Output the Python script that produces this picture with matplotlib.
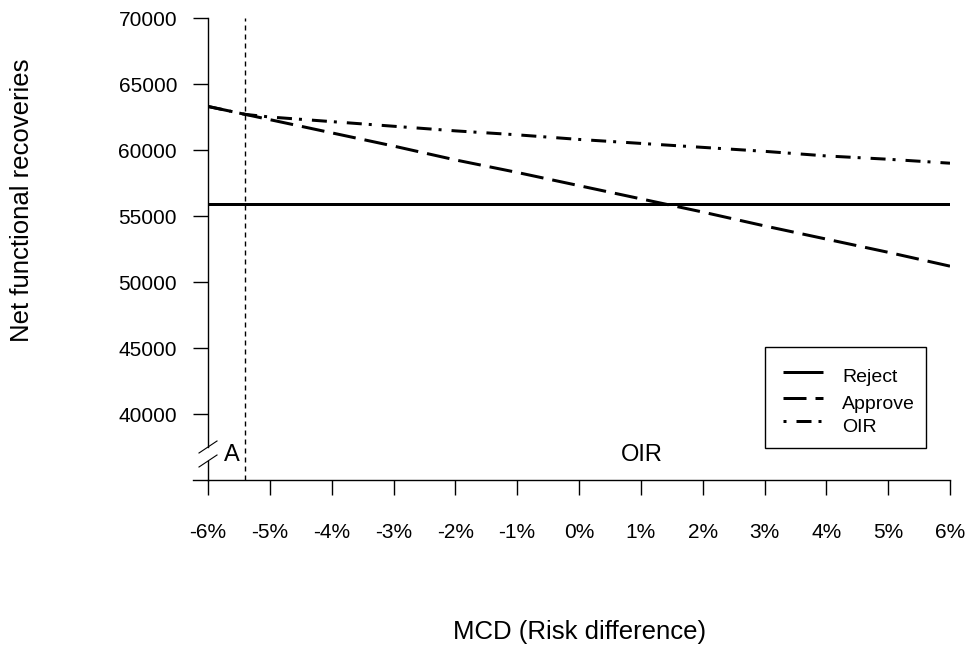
import matplotlib
matplotlib.use("Agg")
import matplotlib.pyplot as plt
from matplotlib.lines import Line2D
from matplotlib.patches import Rectangle

plt.rcParams['font.family'] = ['Liberation Sans', 'DejaVu Sans']
plt.rcParams['lines.scale_dashes'] = False

# ---- data -------------------------------------------------------------
mcd = [-6, -5.4, -5, -4, -3, -2, -1, 0, 1, 2, 3, 4, 5, 6]
reject = [55900] * len(mcd)
approve = [63300, 62700, 62300, 61300, 60300, 59250, 58300, 57300,
           56300, 55300, 54250, 53250, 52250, 51200]
oir = [63300, 62700, 62500, 62150, 61800, 61450, 61150, 60800,
       60500, 60200, 59900, 59550, 59300, 59000]
threshold = -5.4
x_ticks = [-6, -5, -4, -3, -2, -1, 0, 1, 2, 3, 4, 5, 6]
x_labels = [f"{v}%" for v in x_ticks]
y_ticks = [40000, 45000, 50000, 55000, 60000, 65000, 70000]
series_names = ["Reject", "Approve", "OIR"]

# ---- layout helpers ---------------------------------------------------
W, H = 967, 648
PX = 0.72  # points per pixel at 100 dpi
AX_L, AX_R, AX_T, AX_B = 208, 950, 18, 480

fig = plt.figure(figsize=(W / 100, H / 100), dpi=100)
ax = fig.add_axes([AX_L / W, 1 - AX_B / H, (AX_R - AX_L) / W, (AX_B - AX_T) / H])


def ax_xy(px, py):
    return ((px - AX_L) / (AX_R - AX_L), (AX_B - py) / (AX_B - AX_T))


styles = {
    "Reject": dict(color="black", lw=3 * PX, linestyle="-", solid_capstyle="butt"),
    "Approve": dict(color="black", lw=3 * PX, linestyle=(0, (23 * PX, 9 * PX)),
                    dash_capstyle="butt"),
    "OIR": dict(color="black", lw=3 * PX,
                linestyle=(0, (15 * PX, 7 * PX, 3 * PX, 10 * PX)),
                dash_capstyle="butt"),
}

ax.plot(mcd, reject, **styles["Reject"])
ax.plot(mcd, approve, **styles["Approve"])
ax.plot(mcd, oir, **styles["OIR"])
ax.axvline(threshold, color="black", lw=1.0, linestyle=(0, (5 * PX, 4 * PX)))

ax.set_xlim(-6, 6)
ax.set_ylim(35000, 70000)

# ---- axes -------------------------------------------------------------
for s in ("top", "right", "left"):
    ax.spines[s].set_visible(False)
ax.spines["bottom"].set_linewidth(1.0)

ax.set_xticks(x_ticks)
ax.set_xticklabels(x_labels)
ax.set_yticks(y_ticks)
ax.set_yticklabels([str(v) for v in y_ticks])
ax.tick_params(axis="x", direction="out", length=15 * PX, width=1.0, pad=20,
               labelsize=15)
ax.tick_params(axis="y", direction="out", length=15 * PX, width=1.0, pad=11.5,
               labelsize=15)

# y axis with a break near the bottom
lk = dict(color="black", lw=1.0, transform=ax.transAxes, clip_on=False)
ax.add_line(Line2D([0, 0], [0.071, 1.0], **lk))
ax.add_line(Line2D([0, 0], [0.0, 0.041], **lk))
for (x0, y0), (x1, y1) in [((199, 453), (217, 441)), ((199, 467), (217, 455))]:
    a, b = ax_xy(x0, y0), ax_xy(x1, y1)
    ax.add_line(Line2D([a[0], b[0]], [a[1], b[1]], color="black", lw=0.8,
                       transform=ax.transAxes, clip_on=False))
# x axis line continues left of the y axis
a = ax_xy(193, AX_B)
ax.add_line(Line2D([a[0], 0], [0, 0], **lk))

# region labels
ax.text(-5.62, 36900, "A", fontsize=17, ha="center", va="center")
ax.text(1.02, 36900, "OIR", fontsize=17, ha="center", va="center")

# ---- legend -----------------------------------------------------------
bx0, by0 = ax_xy(765, 448)
bx1, by1 = ax_xy(926, 347)
ax.add_patch(Rectangle((bx0, by0), bx1 - bx0, by1 - by0, fill=False,
                       edgecolor="black", lw=1.0, transform=ax.transAxes,
                       clip_on=False))
rows = [(372, 382), (398, 409), (421, 432)]
for name, (ly, ty) in zip(series_names, rows):
    st = dict(styles[name])
    if name == "OIR":
        st["linestyle"] = (22 * PX, (15 * PX, 7 * PX, 3 * PX, 10 * PX))
    p0, p1 = ax_xy(783, ly), ax_xy(823, ly)
    ax.add_line(Line2D([p0[0], p1[0]], [p0[1], p1[1]], transform=ax.transAxes,
                       clip_on=False, **st))
    t = ax_xy(842, ty)
    ax.text(t[0], t[1], name, fontsize=14, ha="left", va="baseline",
            transform=ax.transAxes)

# ---- axis titles ------------------------------------------------------
fig.text(580 / W, 1 - 632 / H, "MCD (Risk difference)", fontsize=18.5,
         ha="center", va="center")
fig.text(22 / W, 1 - 200 / H, "Net functional recoveries", fontsize=18.5,
         ha="center", va="center", rotation=90)

fig.savefig("out.png", dpi=100, facecolor="white")
